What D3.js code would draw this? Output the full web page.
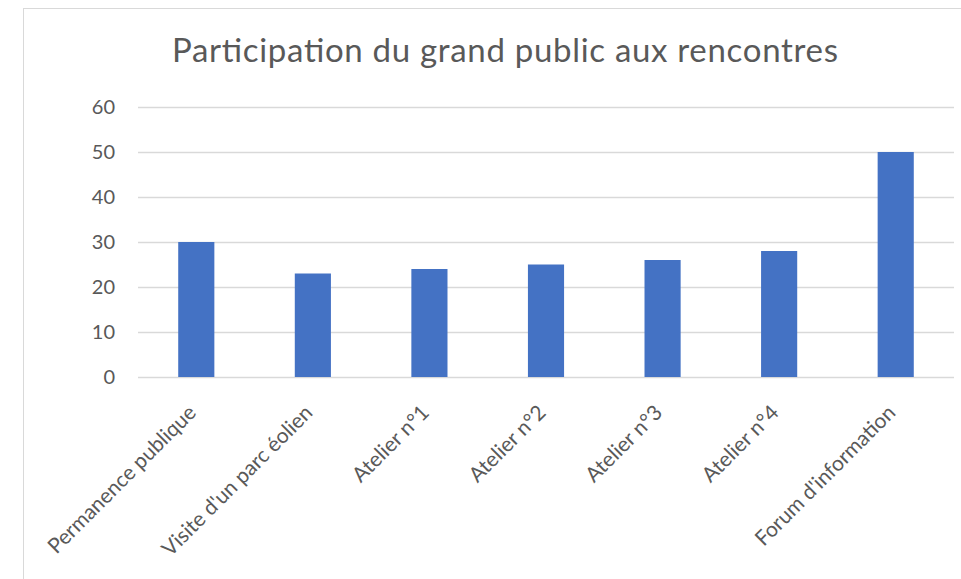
<!DOCTYPE html>
<html>
<head>
<meta charset="utf-8">
<script src="https://cdn.jsdelivr.net/npm/d3@7"></script>
<style>
	body { margin: 0; background: #fff; }
	text { font-family: Lato, "Open Sans", sans-serif; fill: #595959; }
</style>
</head>
<body>
<svg id="chart"></svg>
<script>
const categories = ["Permanence publique", "Visite d'un parc éolien", "Atelier n°1", "Atelier n°2", "Atelier n°3", "Atelier n°4", "Forum d'information"];
const values = [30, 23, 24, 25, 26, 28, 50];
const yTicks = [0, 10, 20, 30, 40, 50, 60];
const title = "Participation du grand public aux rencontres";

let width = 961,
	height = 579;

let svg = d3.select("#chart").attr("width", width).attr("height", height);

// chart frame (cut by the window on the right and bottom)
svg.append("rect")
	.attr("x", 23.5).attr("y", 8.5)
	.attr("width", 1000).attr("height", 1000)
	.style("fill", "none").style("stroke", "#d9d9d9");

let x = d3.scaleBand().domain(categories).range([138, 954]).paddingInner(0.69).paddingOuter(0.345);
let y = d3.scaleLinear().domain([0, 60]).range([377, 107]);

svg.append("text")
	.attr("x", 505).attr("y", 62)
	.attr("text-anchor", "middle")
	.attr("font-size", "33px")
	.attr("textLength", 666)
	.attr("lengthAdjust", "spacing")
	.text(title);

// gridlines
svg.selectAll(".grid")
	.data(yTicks)
	.enter()
	.append("line")
	.attr("x1", 138).attr("x2", 954)
	.attr("y1", d => Math.round(y(d)) + 0.5)
	.attr("y2", d => Math.round(y(d)) + 0.5)
	.style("stroke", "#d9d9d9").style("stroke-width", 1.3);

svg.selectAll(".ylab")
	.data(yTicks)
	.enter()
	.append("text")
	.attr("x", 115)
	.attr("y", d => y(d) + 7)
	.attr("text-anchor", "end")
	.attr("font-size", "20px")
	.text(d => d);

svg.selectAll(".bar")
	.data(values)
	.enter()
	.append("rect")
	.attr("x", (d, i) => x(categories[i]))
	.attr("y", d => y(d))
	.attr("width", x.bandwidth())
	.attr("height", d => y(0) - y(d))
	.style("fill", "#4472c4");

svg.selectAll(".xlab")
	.data(categories)
	.enter()
	.append("text")
	.attr("text-anchor", "end")
	.attr("font-size", "21px")
	.attr("transform", d => `translate(${x(d) + x.bandwidth() / 2 + 1},${414}) rotate(-45)`)
	.text(d => d);
</script>
</body>
</html>
